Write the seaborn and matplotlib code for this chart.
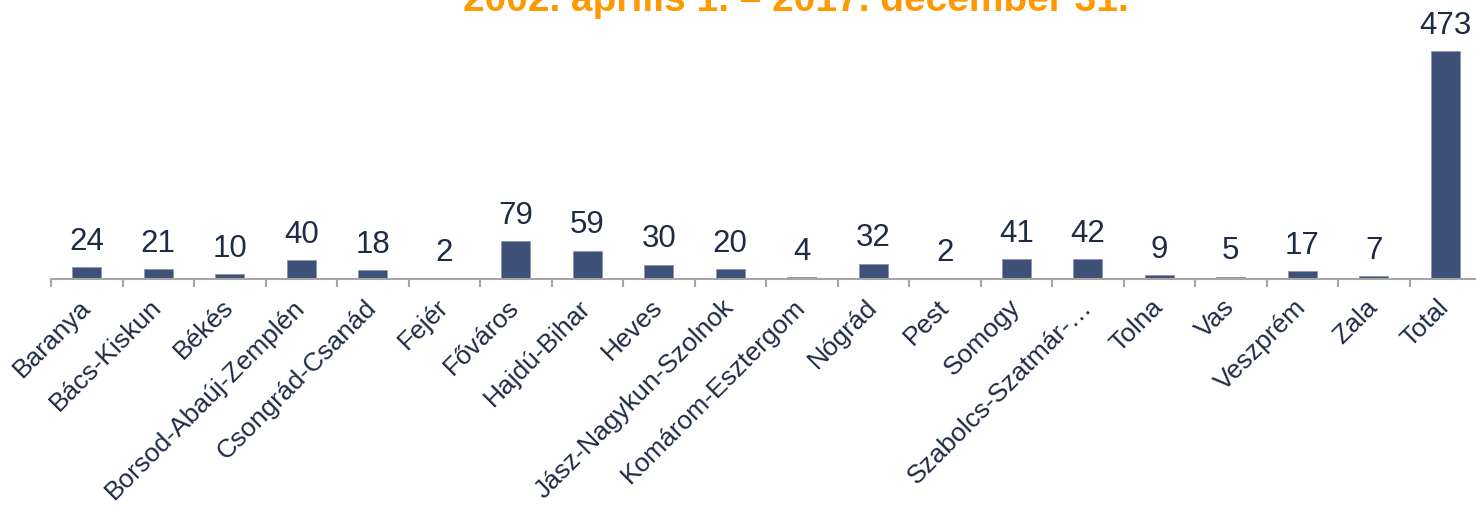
import numpy as np
import pandas as pd
import matplotlib
matplotlib.use("Agg")
import matplotlib.pyplot as plt
import seaborn as sns

categories = ["Baranya", "Bács-Kiskun", "Békés", "Borsod-Abaúj-Zemplén", "Csongrád-Csanád",
              "Fejér", "Főváros", "Hajdú-Bihar", "Heves", "Jász-Nagykun-Szolnok",
              "Komárom-Esztergom", "Nógrád", "Pest", "Somogy", "Szabolcs-Szatmár-…",
              "Tolna", "Vas", "Veszprém", "Zala", "Total"]
values = [24, 21, 10, 40, 18, 2, 79, 59, 30, 20, 4, 32, 2, 41, 42, 9, 5, 17, 7, 473]
title = "2002. április 1. – 2017. december 31."

sns.set_theme(style="white")
plt.rcParams['font.family'] = ['Liberation Sans', 'DejaVu Sans']

W, H = 1476, 506
fig = plt.figure(figsize=(W / 100, H / 100), dpi=100)
ax = fig.add_axes([51 / W, 1 - 280 / H, 1430 / W, 280 / H])

df = pd.DataFrame({"cat": categories, "val": values})
bar_color = "#3F5178"
text_color = "#1F2B45"
axis_color = "#A6A6A6"

sns.barplot(data=df, x="cat", y="val", color=bar_color, width=0.41, ax=ax,
            saturation=1, edgecolor="#8A97B0", linewidth=0.6)

ax.set_xlim(-0.5, len(categories) - 0.5)
ax.set_ylim(0, 581)
ax.set_xlabel("")
ax.set_ylabel("")
ax.set_yticks([])
for s in ["top", "right", "left"]:
    ax.spines[s].set_visible(False)
ax.spines["bottom"].set_color(axis_color)
ax.spines["bottom"].set_linewidth(1.5)

for c in ax.containers:
    ax.bar_label(c, labels=[str(v) for v in values], padding=8, fontsize=22.5, color=text_color)

ax.set_xticks(np.arange(-0.5, len(categories), 1), minor=True)
ax.tick_params(axis="x", which="minor", bottom=True, length=6, width=1.5, color=axis_color, direction="out")
ax.set_xticks(np.arange(len(categories)))
ax.set_xticklabels(categories, rotation=45, ha="right", va="center", rotation_mode="anchor",
                   fontsize=19, color=text_color)
ax.tick_params(axis="x", which="major", bottom=True, length=0, pad=17)

fig.text(795.5 / W, 1 - 11 / H, title, ha="center", va="baseline", fontsize=28,
         fontweight="bold", color="#FF9900")

fig.savefig("out.png", dpi=100)
